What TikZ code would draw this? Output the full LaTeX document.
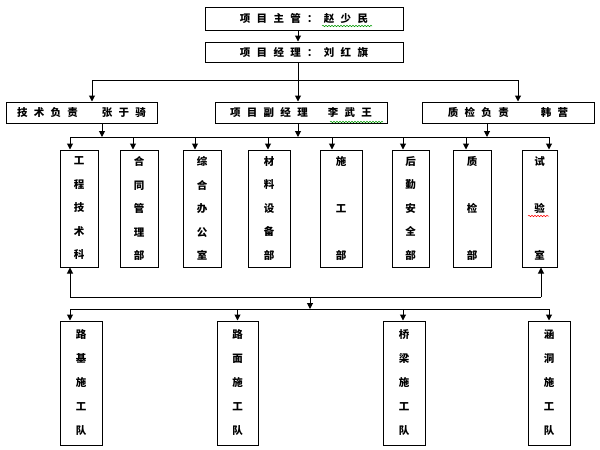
\documentclass[tikz,border=0pt]{standalone}
\usepackage{fontspec}
\setmainfont{Noto Sans CJK SC}
\newfontfamily\cjk[LetterSpace=60]{Noto Sans CJK SC}
\usetikzlibrary{arrows.meta,decorations.pathmorphing}
\begin{document}
\begin{tikzpicture}[x=1pt,y=-1pt,
  hbox/.style={draw,line width=1pt,inner sep=0pt,font=\fontsize{10.5}{12}\selectfont\cjk\bfseries},
  vbox/.style={draw,line width=1pt,inner sep=0pt,align=center},
  vfive/.style={vbox,font=\fontsize{10.5}{23.5}\selectfont\bfseries},
  vthree/.style={vbox,font=\fontsize{10.5}{47}\selectfont\bfseries},
  vteam/.style={vbox,font=\fontsize{10.5}{24}\selectfont\bfseries},
  arr/.style={line width=1pt,-{Triangle[length=6pt,width=6pt]}},
  ln/.style={line width=1pt},
  wavy/.style={line width=0.5pt,decorate,decoration={snake,amplitude=0.7pt,segment length=3pt}}]
\useasboundingbox (0,0) rectangle (600,450);
% top
\node[hbox,minimum width=198,minimum height=23] (top) at (304,18.5) {项目主管：赵少民};
\node[hbox,minimum width=198,minimum height=20] (pm) at (304,52) {项目经理：刘红旗};
% row 2
\node[hbox,minimum width=151,minimum height=21] (tech) at (81.5,112.5) {技术负责\hspace{24pt}张于骑};
\node[hbox,minimum width=172,minimum height=21] (dep) at (301,112.5) {项目副经理\hspace{20pt}李武王};
\node[hbox,minimum width=172,minimum height=21] (qc) at (508,112.5) {质检负责\hspace{32pt}韩营};
% departments
\node[vfive,minimum width=38,minimum height=117] (d1) at (79,208.5) {工\\程\\技\\术\\科};
\node[vfive,minimum width=38,minimum height=117] (d2) at (139,208.5) {合\\同\\管\\理\\部};
\node[vfive,minimum width=38,minimum height=117] (d3) at (202,208.5) {综\\合\\办\\公\\室};
\node[vfive,minimum width=42,minimum height=117] (d4) at (269,208.5) {材\\料\\设\\备\\部};
\node[vthree,minimum width=42,minimum height=117] (d5) at (341,208.5) {施\\工\\部};
\node[vfive,minimum width=37,minimum height=117] (d6) at (410.5,208.5) {后\\勤\\安\\全\\部};
\node[vthree,minimum width=38,minimum height=117] (d7) at (472,208.5) {质\\检\\部};
\node[vthree,minimum width=35,minimum height=117] (d8) at (539.5,208.5) {试\\验\\室};
% teams
\node[vteam,minimum width=42,minimum height=124] (t1) at (81,383) {路\\基\\施\\工\\队};
\node[vteam,minimum width=41,minimum height=124] (t2) at (237.5,383) {路\\面\\施\\工\\队};
\node[vteam,minimum width=42,minimum height=124] (t3) at (404,383) {桥\\梁\\施\\工\\队};
\node[vteam,minimum width=42,minimum height=124] (t4) at (549,383) {涵\\洞\\施\\工\\队};
% connectors top
\draw[arr] ([xshift=-6]top.south) -- ([xshift=-6]pm.north);
\coordinate (j1) at (298,80);
\draw[arr] ([xshift=-6]pm.south) -- ([xshift=-3]dep.north);
\draw[arr] (j1) -| ([xshift=10.5]tech.north);
\draw[arr] (j1) -| ([xshift=10]qc.north);
% bus 2
\coordinate (b2L) at (70,137);
\coordinate (b2R) at (549,137);
\draw[ln] (b2L) -- (b2R);
\draw[arr] ([xshift=20.5]tech.south) -- ([xshift=20.5]tech.south |- b2L);
\draw[arr] ([xshift=-3]dep.south) -- ([xshift=-3]dep.south |- b2L);
\draw[arr] ([xshift=-21]qc.south) -- ([xshift=-21]qc.south |- b2L);
\foreach \n/\dx in {d1/-9,d2/-6,d3/-7,d4/-1,d5/-9,d6/-7.5,d7/-6,d8/9.5}
  \draw[arr] ([xshift=\dx]\n.north |- b2L) -- ([xshift=\dx]\n.north);
% bottom buses
\coordinate (b3) at (310,297);
\coordinate (b4) at (310,309);
\draw[ln] ([xshift=-9]d1.south |- b3) -- ([xshift=1.5]d8.south |- b3);
\draw[arr] ([xshift=-9]d1.south |- b3) -- ([xshift=-9]d1.south);
\draw[arr] ([xshift=1.5]d8.south |- b3) -- ([xshift=1.5]d8.south);
\draw[arr] (b3) -- (b4);
\draw[ln] ([xshift=-11]t1.north |- b4) -- (t4.north |- b4);
\foreach \n/\dx in {t1/-11,t2/0,t3/-1,t4/0}
  \draw[arr] ([xshift=\dx]\n.north |- b4) -- ([xshift=\dx]\n.north);
% spell-check marks
\draw[wavy,green!60!black] (322,26) -- (372,26);
\draw[wavy,green!60!black] (330,122) -- (383,122);
\draw[wavy,red] (528,216) -- (549,216);
\end{tikzpicture}
\end{document}
